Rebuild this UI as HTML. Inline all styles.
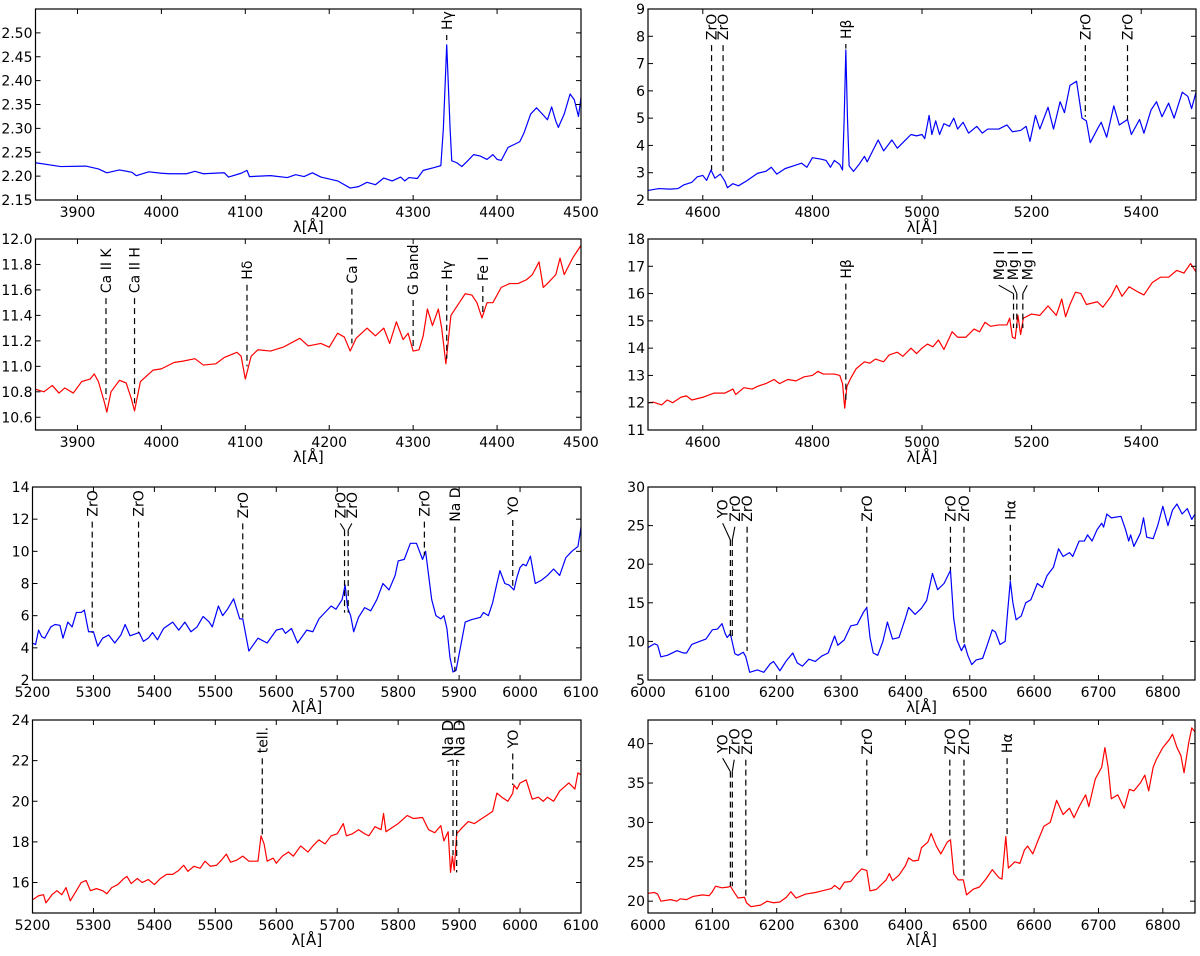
<!DOCTYPE html>
<html><head><meta charset="utf-8"><title>Spectra panels</title>
<style>
html,body{margin:0;padding:0;background:#fff;}
svg{display:block;}
text{font-family:"DejaVu Sans","Liberation Sans",sans-serif;}
</style></head>
<body>
<svg id="fig" width="1200" height="956" viewBox="0 0 1200 956" xmlns="http://www.w3.org/2000/svg"></svg>
<script>
// ---------- data ----------
const p1_wave=[3850,3880,3910,3925,3935,3950,3965,3970,3985,4000,4010,4030,4040,4050,4075,4080,4095,4102,4105,4130,4150,4160,4170,4180,4190,4210,4225,4235,4245,4255,4265,4275,4285,4290,4295,4305,4312,4325,4333,4336,4340,4344,4346,4352,4358,4365,4372,4380,4388,4395,4400,4405,4413,4420,4427,4432,4440,4447,4455,4460,4465,4470,4473,4480,4487,4492,4497,4500];
const p1_flux=[2.228,2.22,2.221,2.215,2.207,2.213,2.208,2.201,2.209,2.206,2.205,2.205,2.21,2.205,2.207,2.198,2.206,2.212,2.199,2.201,2.197,2.203,2.199,2.207,2.198,2.19,2.175,2.178,2.187,2.182,2.196,2.19,2.198,2.19,2.197,2.195,2.212,2.218,2.222,2.3,2.475,2.3,2.232,2.228,2.22,2.232,2.245,2.242,2.235,2.245,2.235,2.233,2.26,2.266,2.272,2.29,2.33,2.343,2.328,2.318,2.345,2.315,2.302,2.33,2.372,2.36,2.325,2.365];

const p2_wave=[4500,4520,4540,4555,4565,4580,4590,4600,4607,4615,4622,4632,4640,4645,4655,4665,4680,4700,4715,4725,4735,4750,4765,4780,4790,4800,4815,4825,4833,4840,4850,4855,4858,4861,4864,4867,4875,4885,4895,4900,4910,4920,4930,4945,4955,4970,4980,4990,5000,5005,5013,5018,5025,5032,5040,5050,5058,5065,5075,5085,5100,5110,5120,5140,5155,5165,5180,5190,5197,5207,5215,5230,5240,5252,5260,5270,5282,5292,5300,5307,5320,5327,5337,5350,5360,5375,5382,5397,5405,5418,5428,5438,5450,5460,5475,5485,5492,5500];
const p2_flux=[2.35,2.42,2.4,2.42,2.55,2.65,2.85,2.9,2.72,3.1,2.8,2.95,2.7,2.45,2.6,2.52,2.7,2.98,3.05,3.2,2.95,3.15,3.25,3.35,3.2,3.55,3.5,3.45,3.2,3.45,3.3,3.1,5.0,7.5,5.0,3.25,3.05,3.3,3.6,3.4,3.8,4.2,3.8,4.2,3.9,4.2,4.4,4.35,4.4,4.25,5.1,4.4,4.9,4.4,4.8,4.7,5.0,4.6,4.85,4.45,4.7,4.45,4.6,4.6,4.75,4.5,4.55,4.7,4.15,5.1,4.6,5.4,4.6,5.6,5.2,6.2,6.35,5.0,4.9,4.1,4.6,4.85,4.3,5.45,4.75,4.95,4.4,4.95,4.45,5.3,5.6,5.05,5.55,5.0,5.95,5.8,5.35,5.95];

const p3_wave=[3850,3860,3870,3878,3885,3895,3905,3915,3920,3925,3932,3935,3940,3950,3958,3964,3968,3975,3990,4000,4015,4025,4040,4050,4065,4075,4090,4095,4100,4107,4115,4130,4145,4165,4175,4190,4200,4210,4218,4225,4232,4245,4255,4265,4272,4280,4288,4294,4300,4307,4312,4317,4323,4330,4334,4339,4345,4355,4362,4370,4376,4382,4388,4395,4405,4415,4425,4435,4442,4450,4455,4460,4470,4475,4480,4490,4500];
const p3_flux=[10.82,10.8,10.85,10.79,10.83,10.79,10.88,10.9,10.94,10.88,10.72,10.64,10.8,10.89,10.87,10.75,10.65,10.88,10.97,10.98,11.03,11.04,11.06,11.01,11.02,11.07,11.11,11.08,10.9,11.08,11.13,11.12,11.15,11.22,11.16,11.18,11.15,11.26,11.23,11.12,11.22,11.3,11.24,11.3,11.18,11.35,11.21,11.26,11.12,11.13,11.24,11.45,11.32,11.45,11.3,11.02,11.4,11.5,11.57,11.56,11.5,11.38,11.5,11.5,11.62,11.65,11.65,11.68,11.72,11.82,11.62,11.65,11.72,11.85,11.72,11.85,11.95];

const p4_wave=[4500,4510,4525,4535,4545,4560,4570,4580,4600,4620,4640,4655,4660,4675,4690,4700,4715,4730,4740,4755,4770,4785,4800,4810,4820,4840,4850,4855,4859,4863,4870,4880,4895,4905,4915,4930,4940,4955,4965,4980,4990,5000,5010,5020,5030,5040,5055,5065,5080,5095,5105,5115,5125,5140,5155,5160,5165,5170,5175,5180,5185,5200,5215,5230,5245,5255,5262,5270,5280,5290,5300,5320,5330,5345,5355,5365,5378,5395,5405,5420,5435,5450,5465,5478,5490,5500];
const p4_flux=[12.0,12.02,11.92,12.1,12.0,12.2,12.25,12.1,12.2,12.35,12.35,12.5,12.3,12.55,12.5,12.6,12.7,12.85,12.7,12.85,12.8,12.95,13.0,13.15,13.05,13.05,13.0,12.7,11.8,12.6,12.9,13.25,13.5,13.45,13.6,13.5,13.75,13.85,13.7,14.0,13.8,14.0,14.15,14.05,14.3,13.95,14.6,14.4,14.4,14.7,14.6,14.95,14.8,14.85,14.85,15.1,14.4,14.35,15.2,14.5,15.1,15.25,15.2,15.55,15.2,15.8,15.15,15.6,16.05,16.0,15.6,15.7,15.5,15.9,16.3,15.9,16.25,16.05,15.95,16.4,16.6,16.6,16.85,16.75,17.1,16.8];

const p5_wave=[5200,5205,5210,5215,5220,5230,5237,5245,5250,5258,5265,5272,5280,5285,5292,5300,5307,5315,5325,5335,5345,5352,5360,5375,5382,5390,5397,5405,5415,5430,5440,5450,5460,5470,5480,5490,5495,5505,5512,5520,5530,5540,5545,5555,5570,5585,5600,5610,5615,5625,5635,5650,5660,5670,5690,5698,5708,5713,5717,5722,5727,5735,5745,5755,5765,5775,5785,5795,5800,5810,5820,5830,5840,5845,5850,5855,5862,5870,5875,5880,5885,5890,5895,5902,5910,5920,5935,5940,5948,5955,5962,5967,5975,5982,5990,5995,6000,6005,6010,6017,6025,6035,6045,6055,6065,6075,6085,6095,6100];
const p5_flux=[4.3,4.2,5.1,4.7,4.6,5.3,5.45,5.4,4.6,5.6,5.3,6.2,6.2,6.35,5.0,5.0,4.1,4.6,4.8,4.3,4.8,5.45,4.75,4.95,4.4,4.6,4.95,4.5,5.2,5.6,5.1,5.6,5.0,5.3,5.95,5.6,5.3,6.6,6.0,6.4,7.05,5.8,5.8,3.8,4.6,4.3,5.1,5.2,4.9,5.2,4.3,5.1,5.0,5.8,6.6,6.4,7.0,7.9,6.5,6.0,5.0,5.9,6.5,6.3,7.0,8.0,7.6,8.5,9.4,9.5,10.5,10.5,9.5,10.0,8.5,7.0,6.0,5.8,6.0,5.2,3.4,2.5,2.6,4.0,5.6,5.75,5.9,6.2,6.0,6.8,8.0,8.8,8.0,7.9,7.6,8.4,9.0,9.2,9.1,9.7,8.0,8.2,8.5,8.9,8.5,9.6,10.0,10.3,11.5];

const p6_wave=[6000,6010,6015,6020,6030,6045,6055,6060,6068,6080,6090,6100,6108,6115,6120,6123,6128,6135,6140,6148,6152,6158,6170,6180,6190,6195,6205,6215,6225,6232,6240,6250,6260,6270,6280,6290,6295,6305,6315,6325,6335,6340,6345,6350,6357,6365,6372,6380,6390,6400,6405,6415,6425,6433,6442,6450,6460,6470,6475,6480,6487,6492,6497,6503,6510,6520,6527,6535,6540,6547,6555,6559,6563,6567,6572,6580,6587,6595,6605,6613,6620,6630,6638,6645,6655,6660,6670,6678,6683,6690,6698,6705,6708,6713,6720,6735,6742,6747,6750,6755,6765,6770,6775,6785,6792,6800,6808,6815,6822,6830,6838,6845,6850];
const p6_flux=[9.2,9.7,9.5,8.0,8.2,8.8,8.5,8.5,9.6,10.0,10.3,11.5,11.6,12.3,11.0,10.5,11.0,8.4,8.2,8.6,8.0,6.0,6.3,6.0,7.1,7.4,6.2,7.5,8.5,7.2,6.8,7.7,7.4,8.1,8.5,10.7,9.5,10.2,12.0,12.2,13.8,14.4,10.5,8.5,8.2,10.0,12.5,10.3,10.5,13.0,14.4,13.5,14.3,15.3,18.8,16.7,17.5,19.2,13.0,10.2,8.8,9.6,8.2,7.0,7.6,7.8,9.5,11.5,11.2,9.6,10.0,14.0,17.8,15.0,12.8,13.3,15.0,15.4,17.5,17.0,18.5,19.6,22.0,21.0,21.5,21.0,23.0,23.0,23.8,23.0,24.5,25.3,24.8,26.5,26.0,26.2,24.5,23.0,23.8,22.3,24.0,26.0,23.5,23.3,25.0,27.5,25.0,27.0,27.8,26.5,27.2,25.8,26.5];

const p7_wave=[5200,5210,5218,5222,5232,5240,5248,5255,5262,5270,5280,5288,5295,5305,5315,5322,5330,5340,5350,5355,5362,5372,5380,5390,5400,5410,5420,5430,5440,5448,5455,5465,5475,5483,5492,5502,5510,5518,5525,5535,5545,5555,5570,5575,5580,5585,5595,5600,5610,5620,5628,5640,5652,5660,5670,5680,5690,5700,5710,5715,5725,5735,5745,5752,5762,5772,5776,5780,5790,5800,5815,5825,5840,5850,5860,5870,5875,5882,5886,5889,5892,5896,5905,5915,5925,5935,5945,5955,5962,5970,5980,5988,5990,5995,6000,6010,6020,6030,6038,6045,6055,6065,6080,6090,6095,6100];
const p7_flux=[15.15,15.35,15.4,15.0,15.4,15.6,15.4,15.75,15.1,15.5,16.0,16.1,15.6,15.7,15.6,15.45,15.75,15.9,16.2,16.3,15.95,16.2,16.0,16.15,15.9,16.2,16.4,16.4,16.6,16.85,16.55,16.8,16.7,17.05,16.8,16.85,17.1,17.4,17.0,17.1,17.3,17.05,17.05,18.3,17.9,17.05,17.2,16.95,17.3,17.5,17.3,17.8,17.5,17.8,18.1,17.9,18.3,18.4,18.9,18.3,18.4,18.6,18.4,18.3,18.75,18.6,19.4,18.5,18.7,18.9,19.3,19.15,19.2,18.6,18.45,18.8,18.05,18.5,16.5,17.3,16.6,18.4,18.7,19.0,18.9,19.1,19.3,19.5,20.4,20.2,20.0,20.4,20.8,20.6,20.9,21.05,20.1,20.2,20.0,20.2,20.0,20.5,20.9,20.6,21.4,21.3];

const p8_wave=[6000,6010,6015,6020,6035,6045,6050,6060,6070,6085,6095,6100,6105,6115,6125,6128,6135,6140,6150,6153,6160,6175,6185,6195,6205,6215,6222,6230,6245,6260,6270,6285,6290,6298,6305,6315,6325,6332,6340,6345,6355,6370,6375,6380,6390,6400,6405,6412,6420,6425,6435,6440,6448,6455,6465,6470,6475,6482,6490,6495,6505,6515,6525,6535,6545,6550,6556,6560,6570,6578,6585,6590,6598,6605,6615,6625,6635,6645,6655,6662,6670,6680,6685,6695,6705,6710,6715,6720,6730,6740,6748,6755,6765,6772,6778,6785,6790,6800,6810,6815,6822,6828,6833,6840,6845,6850];
const p8_flux=[21.0,21.1,20.9,20.0,20.2,20.0,20.3,20.2,20.6,20.8,20.7,21.2,21.9,21.7,21.8,21.9,21.0,20.4,20.5,19.8,19.3,19.5,20.0,19.8,19.9,20.5,21.2,20.4,20.9,21.1,21.3,21.6,22.0,21.5,22.4,22.5,23.5,24.1,23.9,21.3,21.5,22.7,23.5,22.6,23.3,24.5,25.5,25.1,25.2,26.8,27.5,28.6,27.0,26.0,27.5,27.8,23.5,22.7,22.7,20.8,21.5,21.8,22.8,24.0,23.0,22.8,28.2,24.2,25.0,24.8,26.5,27.0,26.0,27.5,29.5,30.0,32.8,31.0,31.8,30.6,32.0,33.5,32.0,35.5,37.0,39.5,37.0,33.0,33.5,31.8,34.2,34.0,35.0,36.0,34.0,37.0,38.0,39.5,40.5,41.2,39.5,38.5,36.3,40.0,42.0,41.5];

// annotations: [line wavelength, label wavelength, text, label-bottom y, connector-end y (or null), line-bottom y]
const p1_ann=[[4340,4340,'Hγ',2.506,null,2.485]];
const p2_ann=[[4616,4616,'ZrO',7.86,null,3.1],[4637,4637,'ZrO',7.86,null,2.95],[4861,4861,'Hβ',7.9,null,7.55],[5298,5298,'ZrO',7.86,null,5.05],[5375,5375,'ZrO',7.86,null,4.95]];
const p3_ann=[[3934,3934,'Ca II K',11.575,null,10.74],[3968,3968,'Ca II H',11.575,null,10.71],[4102,4102,'Hδ',11.68,null,11.0],[4227,4227,'Ca I',11.65,null,11.18],[4300,4300,'G band',11.56,null,11.15],[4340,4340,'Hγ',11.68,null,11.06],[4383,4383,'Fe I',11.67,null,11.41]];
const p4_ann=[[4861,4861,'Hβ',16.55,null,12.09],[5167,5140,'Mg I',16.49,16.0,14.74],[5173,5166,'Mg I',16.49,16.0,14.74],[5184,5192,'Mg I',16.49,16.0,14.74]];
const p5_ann=[[5298,5298,'ZrO',12.16,null,4.93],[5374,5374,'ZrO',12.16,null,4.93],[5545,5545,'ZrO',12.05,null,5.87],[5712,5705,'ZrO',12.05,11.32,6.19],[5718,5724,'ZrO',12.05,11.32,6.19],[5843,5843,'ZrO',12.16,null,9.75],[5893,5893,'Na D',11.84,null,2.52],[5988,5988,'YO',12.26,null,7.86]];
const p6_ann=[[6128,6116,'YO',25.96,23.13,10.5],[6131,6135,'ZrO',25.5,23.13,10.5],[6154,6154,'ZrO',25.5,null,8.78],[6340,6340,'ZrO',25.5,null,14.43],[6470,6470,'ZrO',25.5,null,19.2],[6491,6491,'ZrO',25.5,null,9.22],[6563,6563,'Hα',25.74,null,17.9]];
const p7_ann=[[5577,5577,'tell.',22.36,null,18.25],[5890,5881,'Na D',22.2,22.03,17.35],[5896,5900,'Na D',22.2,22.03,16.5],[5988,5988,'YO',22.6,null,20.8]];
const p8_ann=[[6128,6116,'YO',38.8,36.45,21.9],[6131,6134,'ZrO',38.6,36.45,21.9],[6152,6154,'ZrO',38.6,null,20.4],[6340,6340,'ZrO',38.6,null,25.56],[6469,6469,'ZrO',38.6,null,27.9],[6491,6491,'ZrO',38.6,null,22.8],[6558,6558,'Hα',38.8,null,28.5]];

// ticks
const xt_a=[3900,4000,4100,4200,4300,4400,4500];
const xt_b=[4600,4800,5000,5200,5400];
const xt_c=[5200,5300,5400,5500,5600,5700,5800,5900,6000,6100];
const xt_d=[6000,6100,6200,6300,6400,6500,6600,6700,6800];
const yt_1=[2.15,2.20,2.25,2.30,2.35,2.40,2.45,2.50,2.55];
const yl_1=['2.15','2.20','2.25','2.30','2.35','2.40','2.45','2.50',''];
const yt_2=[2,3,4,5,6,7,8,9];
const yt_3=[10.6,10.8,11.0,11.2,11.4,11.6,11.8,12.0];
const yl_3=['10.6','10.8','11.0','11.2','11.4','11.6','11.8','12.0'];
const yt_4=[11,12,13,14,15,16,17,18];
const yt_5=[2,4,6,8,10,12,14];
const yt_6=[5,10,15,20,25,30];
const yt_7=[16,18,20,22,24];
const yt_8=[20,25,30,35,40];

// ---------- layout ----------
const BLUE='#0000ff', RED='#ff0000';
const panels=[
 {n:'panel-hgamma-emission',x0:35.5,x1:581,y0:9,y1:200,xmin:3850,xmax:4500,ymin:2.15,ymax:2.55,xt:xt_a,yt:yt_1,yl:yl_1,c:BLUE,w:p1_wave,f:p1_flux,a:p1_ann},
 {n:'panel-hbeta-emission',x0:648,x1:1196,y0:9,y1:200,xmin:4500,xmax:5500,ymin:2,ymax:9,xt:xt_b,yt:yt_2,c:BLUE,w:p2_wave,f:p2_flux,a:p2_ann},
 {n:'panel-blue-absorption',x0:35.5,x1:581,y0:239,y1:430,xmin:3850,xmax:4500,ymin:10.5,ymax:12.0,xt:xt_a,yt:yt_3,yl:yl_3,c:RED,w:p3_wave,f:p3_flux,a:p3_ann},
 {n:'panel-mg-absorption',x0:648,x1:1196,y0:239,y1:430,xmin:4500,xmax:5500,ymin:11,ymax:18,xt:xt_b,yt:yt_4,c:RED,w:p4_wave,f:p4_flux,a:p4_ann},
 {n:'panel-nad-blue',x0:32.5,x1:581,y0:487,y1:680,xmin:5200,xmax:6100,ymin:2,ymax:14,xt:xt_c,yt:yt_5,c:BLUE,w:p5_wave,f:p5_flux,a:p5_ann},
 {n:'panel-halpha-blue',x0:648,x1:1195,y0:487,y1:680,xmin:6000,xmax:6850,ymin:5,ymax:30,xt:xt_d,yt:yt_6,c:BLUE,w:p6_wave,f:p6_flux,a:p6_ann},
 {n:'panel-nad-red',x0:32.5,x1:581,y0:720,y1:913,xmin:5200,xmax:6100,ymin:14.5,ymax:24,xt:xt_c,yt:yt_7,c:RED,w:p7_wave,f:p7_flux,a:p7_ann},
 {n:'panel-halpha-red',x0:648,x1:1195,y0:720,y1:913,xmin:6000,xmax:6850,ymin:18.5,ymax:43,xt:xt_d,yt:yt_8,c:RED,w:p8_wave,f:p8_flux,a:p8_ann}
];
const NS='http://www.w3.org/2000/svg';
const svg=document.getElementById('fig');
function mk(tag,attrs,parent){const e=document.createElementNS(NS,tag);for(const k in attrs)e.setAttribute(k,attrs[k]);parent.appendChild(e);return e;}

panels.forEach(function(p){
  const g=mk('g',{},svg);
  
  
  const sx=function(v){return p.x0+(v-p.xmin)/(p.xmax-p.xmin)*(p.x1-p.x0);};
  const sy=function(v){return p.y1-(v-p.ymin)/(p.ymax-p.ymin)*(p.y1-p.y0);};
  const cid='clip-'+p.n;
  const cp=mk('clipPath',{id:cid},g);
  mk('rect',{x:p.x0,y:p.y0,width:p.x1-p.x0,height:p.y1-p.y0},cp);
  const n=Math.min(p.w.length,p.f.length);
  let d='';
  for(let i=0;i<n;i++){d+=(i?'L':'M')+sx(p.w[i]).toFixed(2)+' '+sy(p.f[i]).toFixed(2);}
  const line=mk('path',{d:d,fill:'none',stroke:p.c,'stroke-width':1.2,'stroke-linejoin':'round','clip-path':'url(#'+cid+')'},g);
  
  
  p.a.forEach(function(a){
    const lx=sx(a[0]), tx=sx(a[1]);
    const lb=sy(a[3]);
    const ag=mk('g',{},g);
    
    
    let top=lb+5;
    if(a[4]!==null){
      const cy=sy(a[4]);
      mk('line',{x1:tx,y1:lb+5,x2:lx,y2:cy,stroke:'#000','stroke-width':1.1},ag);
      top=cy;
    }
    mk('line',{x1:lx,y1:top,x2:lx,y2:sy(a[5]),stroke:'#000','stroke-width':1.2,'stroke-dasharray':'6,4'},ag);
    const fs=(a[2]==='Na D'&&p.n==='panel-nad-red')?15:14;
    const t=mk('text',{x:0,y:0,'font-size':fs,'text-anchor':'start',transform:'translate('+(tx+fs*0.36).toFixed(1)+','+lb.toFixed(1)+') rotate(-90)'},ag);
    t.textContent=a[2];
  });
  const fr=mk('rect',{x:p.x0,y:p.y0,width:p.x1-p.x0,height:p.y1-p.y0,fill:'none',stroke:'#000','stroke-width':1.2},g);
  
  
  const xg=mk('g',{},g);
  
  
  p.xt.forEach(function(v){
    const x=sx(v);
    mk('line',{x1:x,y1:p.y1,x2:x,y2:p.y1-5,stroke:'#000','stroke-width':1},xg);
    mk('line',{x1:x,y1:p.y0,x2:x,y2:p.y0+5,stroke:'#000','stroke-width':1},xg);
    const t=mk('text',{x:x,y:p.y1+17,'font-size':14,'text-anchor':'middle'},xg);
    t.textContent=String(v);
  });
  const xl=mk('text',{x:(p.x0+p.x1)/2,y:p.y1+32,'font-size':15,'text-anchor':'middle','font-family':'"Liberation Serif","DejaVu Serif",serif'},xg);
  
  
  xl.textContent='λ[Å]';
  const yg=mk('g',{},g);
  
  
  p.yt.forEach(function(v,i){
    const y=sy(v);
    mk('line',{x1:p.x0,y1:y,x2:p.x0+5,y2:y,stroke:'#000','stroke-width':1},yg);
    mk('line',{x1:p.x1,y1:y,x2:p.x1-5,y2:y,stroke:'#000','stroke-width':1},yg);
    const lab=p.yl?p.yl[i]:String(v);
    if(lab){
      const t=mk('text',{x:p.x0-3,y:y+5,'font-size':14,'text-anchor':'end'},yg);
      t.textContent=lab;
    }
  });
});
</script>
</body></html>
